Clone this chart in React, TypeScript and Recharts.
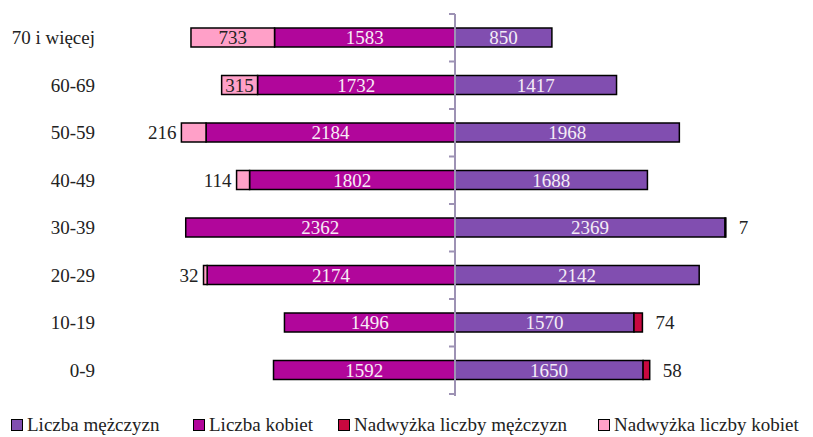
import React from 'react';
import { BarChart, Bar, XAxis, YAxis, Legend, LabelList, ReferenceLine } from 'recharts';

const categories = ['70 i więcej', '60-69', '50-59', '40-49', '30-39', '20-29', '10-19', '0-9'];
const men = [850, 1417, 1968, 1688, 2369, 2142, 1570, 1650];
const women = [1583, 1732, 2184, 1802, 2362, 2174, 1496, 1592];
const menSurplus = [0, 0, 0, 0, 7, 0, 74, 58];
const womenSurplus = [733, 315, 216, 114, 0, 32, 0, 0];

const seriesNames = ['Liczba mężczyzn', 'Liczba kobiet', 'Nadwyżka liczby mężczyzn', 'Nadwyżka liczby kobiet'];
const colors = ['#814EB0', '#B1069B', '#C8083F', '#FFA0C8'];

const data = categories.map((c, i) => ({
  cat: c,
  men: men[i],
  women: -women[i],
  menSurplus: menSurplus[i],
  womenSurplus: -womenSurplus[i],
}));

const FONT = '"Liberation Serif", "Times New Roman", serif';

const norm = (p: any) => {
  const x = Number(p.x), w = Number(p.width), y = Number(p.y), h = Number(p.height);
  return { left: Math.min(x, x + w), right: Math.max(x, x + w), cy: y + h / 2, w: Math.abs(w) };
};

const CenterLabel = (fill: string) => (p: any) => {
  const v = Math.abs(Number(p.value));
  if (!v) return null;
  const { left, right, cy } = norm(p);
  return (
    <text x={(left + right) / 2} y={cy} textAnchor="middle" dominantBaseline="central" fill={fill} fontSize={19} fontFamily={FONT}>
      {v}
    </text>
  );
};

const WomenSurplusLabel = (p: any) => {
  const v = Math.abs(Number(p.value));
  if (!v) return null;
  const { left, right, cy } = norm(p);
  if (v >= 300) {
    return (
      <text x={(left + right) / 2} y={cy} textAnchor="middle" dominantBaseline="central" fill="#222" fontSize={19} fontFamily={FONT}>
        {v}
      </text>
    );
  }
  return (
    <text x={left - 5} y={cy} textAnchor="end" dominantBaseline="central" fill="#222" fontSize={19} fontFamily={FONT}>
      {v}
    </text>
  );
};

const MenSurplusLabel = (p: any) => {
  const v = Math.abs(Number(p.value));
  if (!v) return null;
  const { right, cy } = norm(p);
  return (
    <text x={right + 13} y={cy} textAnchor="start" dominantBaseline="central" fill="#222" fontSize={19} fontFamily={FONT}>
      {v}
    </text>
  );
};

const AxisShape = (p: any) => {
  const x = Number(p.x1);
  const y1 = Math.min(Number(p.y1), Number(p.y2));
  const y2 = Math.max(Number(p.y1), Number(p.y2));
  const n = categories.length;
  const step = (y2 - y1) / n;
  const ticks = [];
  for (let i = 0; i <= n; i++) {
    const y = y1 + i * step;
    ticks.push(<line key={i} x1={x - 6} x2={x} y1={y} y2={y} stroke="#9D92B4" strokeWidth={2} />);
  }
  return (
    <g>
      <line x1={x} x2={x} y1={y1} y2={y2 + 2} stroke="#9D92B4" strokeWidth={2} />
      {ticks}
    </g>
  );
};

const LegendContent = () => {
  const lefts = [11, 193, 338, 598];
  return (
    <div style={{ position: 'relative', height: 40, width: 813, fontFamily: FONT, fontSize: 19, color: '#222' }}>
      {seriesNames.map((n, i) => (
        <div key={n} style={{ position: 'absolute', left: lefts[i], top: 22, display: 'flex', alignItems: 'center', whiteSpace: 'nowrap', lineHeight: '18px' }}>
          <span style={{ display: 'inline-block', width: 10, height: 10, background: colors[i], border: '1px solid #000', marginRight: 4 }} />
          <span>{n}</span>
        </div>
      ))}
    </div>
  );
};

export default function App() {
  return (
    <div style={{ position: 'absolute', left: 0, top: 0, width: 813, height: 437, background: '#fff' }}>
      <BarChart
        width={813}
        height={437}
        data={data}
        layout="vertical"
        stackOffset="sign"
        barSize={19}
        margin={{ top: 14, right: 16, bottom: 3, left: 0 }}
      >
        <XAxis type="number" domain={[-3000, 3000]} hide allowDataOverflow />
        <YAxis
          type="category"
          dataKey="cat"
          width={113}
          axisLine={false}
          tickLine={false}
          tickMargin={12}
          tick={{ fill: '#222', fontSize: 19, fontFamily: FONT }}
          interval={0}
        />
        <Legend verticalAlign="bottom" align="left" height={40} content={LegendContent} wrapperStyle={{ left: 0, width: 813 }} />
        <Bar dataKey="men" name={seriesNames[0]} stackId="s" fill={colors[0]} stroke="#000" strokeWidth={1.5} isAnimationActive={false}>
          <LabelList dataKey="men" content={CenterLabel('#F4ECF6')} />
        </Bar>
        <Bar dataKey="women" name={seriesNames[1]} stackId="s" fill={colors[1]} stroke="#000" strokeWidth={1.5} isAnimationActive={false}>
          <LabelList dataKey="women" content={CenterLabel('#F8ECF6')} />
        </Bar>
        <Bar dataKey="menSurplus" name={seriesNames[2]} stackId="s" fill={colors[2]} stroke="#000" strokeWidth={1.5} isAnimationActive={false}>
          <LabelList dataKey="menSurplus" content={MenSurplusLabel} />
        </Bar>
        <Bar dataKey="womenSurplus" name={seriesNames[3]} stackId="s" fill={colors[3]} stroke="#000" strokeWidth={1.5} isAnimationActive={false}>
          <LabelList dataKey="womenSurplus" content={WomenSurplusLabel} />
        </Bar>
        <ReferenceLine x={0} shape={AxisShape} />
      </BarChart>
    </div>
  );
}
